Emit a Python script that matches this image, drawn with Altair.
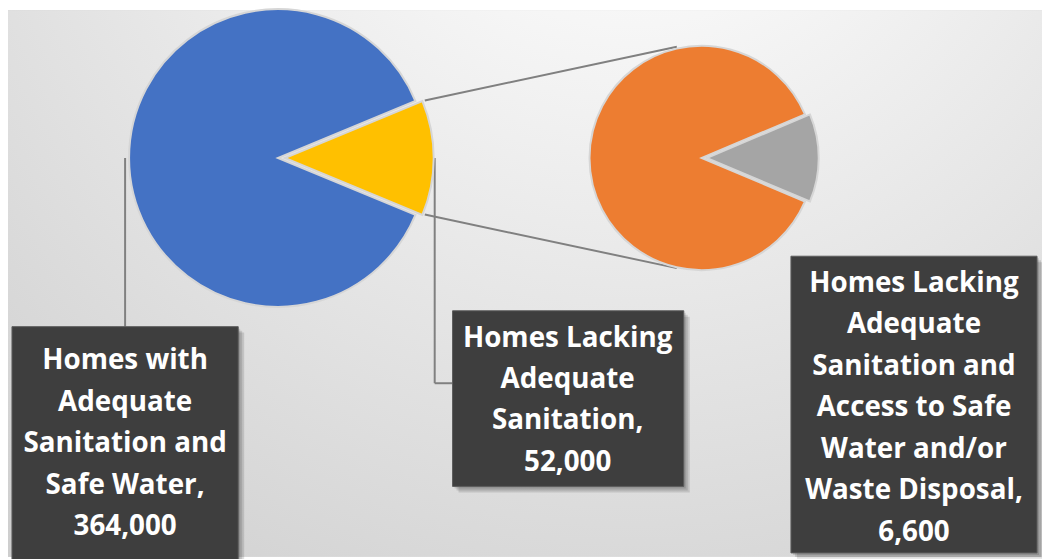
import math
import altair as alt
import pandas as pd

# ---------------- data ----------------
categories = [
    "Homes with Adequate Sanitation and Safe Water",
    "Homes Lacking Adequate Sanitation",
    "Homes Lacking Adequate Sanitation and Access to Safe Water and/or Waste Disposal",
]
values = [364000, 52000, 6600]
label_lines = [
    ["Homes with", "Adequate", "Sanitation and", "Safe Water,"],
    ["Homes Lacking", "Adequate", "Sanitation,"],
    ["Homes Lacking", "Adequate", "Sanitation and", "Access to Safe", "Water and/or", "Waste Disposal,"],
]
main_colors = ["#4472C4", "#FFC000"]
sub_colors = ["#ED7D31", "#A5A5A5"]

# ---------------- layout (pixel positions in page coords) ----------------
W, H = 1042, 551
X0, Y0 = 8, 8
main_pie = dict(cx=280, cy=157, r=150, explode=7)
sub_pie = dict(cx=707, cy=157, r=113, explode=5)
# ty = centre of the first text line
boxes = [
    dict(x=12, x2=240, y=327, y2=575, tx=126, ty=362),
    dict(x=456, x2=689, y=311, y2=488, tx=572, ty=339),
    dict(x=797, x2=1045, y=256, y2=555, tx=921, ty=284),
]
leaders = [
    dict(x=126, y=157, x2=126, y2=327),
    dict(x=438, y=157, x2=438, y2=384),
    dict(x=438, y=384, x2=456, y2=384),
    dict(x=428, y=99, x2=682, y2=45),
    dict(x=428, y=214, x2=682, y2=268),
]


def pie_rows(vals, colors, pie):
    total = sum(vals)
    a = 2 * math.pi * vals[1] / total
    fs, fe = math.pi / 2 - a / 2, math.pi / 2 + a / 2
    rows = [
        dict(start=fe, end=fs + 2 * math.pi, color=colors[0], cx=pie["cx"], cy=pie["cy"], r=pie["r"]),
        dict(start=fs, end=fe, color=colors[1],
             cx=pie["cx"] + pie["explode"] * math.sin(math.pi / 2),
             cy=pie["cy"] - pie["explode"] * math.cos(math.pi / 2), r=pie["r"]),
    ]
    return rows


main_vals = [values[0], values[1]]
sub_vals = [values[1] - values[2], values[2]]
arcs = pd.DataFrame(pie_rows(main_vals, main_colors, main_pie) + pie_rows(sub_vals, sub_colors, sub_pie))

labels = []
for lines, v, b in zip(label_lines, values, boxes):
    labels.append(dict(text="\n".join(lines + [f"{v:,}"]), x=b["tx"], y=b["ty"]))
labels = pd.DataFrame(labels)
box_df = pd.DataFrame(boxes)
shadow_df = pd.concat([
    box_df.assign(x=box_df.x + k, x2=box_df.x2 + k, y=box_df.y + k, y2=box_df.y2 + k, o=0.12)
    for k in (2, 4, 6)
])
lead_df = pd.DataFrame(leaders)

xs = alt.Scale(domain=[X0, X0 + W], nice=False, zero=False)
ys = alt.Scale(domain=[Y0, Y0 + H], nice=False, zero=False, reverse=True)


def X(f):
    return alt.X(f"{f}:Q", scale=xs, axis=None)


def Y(f):
    return alt.Y(f"{f}:Q", scale=ys, axis=None)


bg = alt.Chart(pd.DataFrame({"a": [0]})).mark_rect(
    fill=alt.RadialGradient(
        gradient="radial",
        stops=[
            alt.GradientStop(offset=0, color="#ffffff"),
            alt.GradientStop(offset=0.25, color="#f6f6f6"),
            alt.GradientStop(offset=1, color="#cccccc"),
        ],
        x1=0.6, y1=0.0, r1=0, x2=0.6, y2=0.0, r2=1.0,
    )
).encode(x=alt.value(0), x2=alt.value(W), y=alt.value(0), y2=alt.value(H))

lines_layer = alt.Chart(lead_df).mark_rule(color="#808080", strokeWidth=2).encode(
    x=X("x"), y=Y("y"), x2="x2", y2="y2"
)

pies = alt.Chart(arcs).mark_arc(stroke="#d6d6d6", strokeWidth=2).encode(
    x=X("cx"), y=Y("cy"),
    theta=alt.Theta("start:Q", scale=None), theta2="end:Q",
    radius=alt.Radius("r:Q", scale=None),
    color=alt.Color("color:N", scale=None),
)

shadows = alt.Chart(shadow_df).mark_rect(color="#000000").encode(
    x=X("x"), x2="x2", y=Y("y"), y2="y2", opacity=alt.Opacity("o:Q", scale=None)
)

box_layer = alt.Chart(box_df).mark_rect(color="#3e3e3e", stroke="#5c5c5c", strokeWidth=1).encode(
    x=X("x"), x2="x2", y=Y("y"), y2="y2"
)

text_layer = alt.Chart(labels).mark_text(
    font="Open Sans", fontWeight="bold", fontSize=28, color="#ffffff",
    lineBreak="\n", lineHeight=41.8, align="center", baseline="middle",
).encode(x=X("x"), y=Y("y"), text="text:N")

chart = alt.layer(bg, lines_layer, pies, shadows, box_layer, text_layer).properties(
    width=W, height=H, padding=0, autosize=alt.AutoSizeParams(type="none")
).configure_view(stroke=None)

chart.save("out.html", embed_options={"renderer": "svg", "actions": False})
